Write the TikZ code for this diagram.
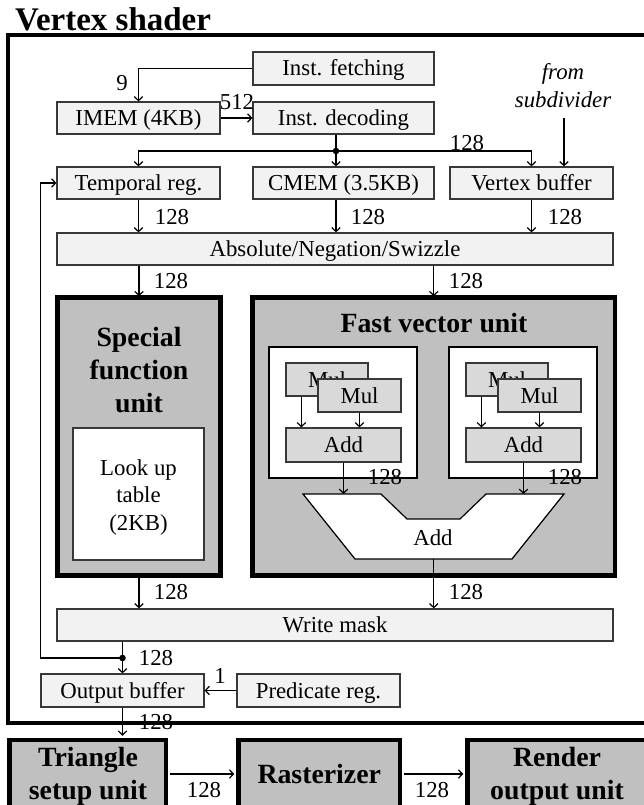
\documentclass[tikz,border=0pt]{standalone}
\usepackage{fontspec}
\setmainfont{Liberation Serif}
\usetikzlibrary{arrows.meta,calc}

\definecolor{boxlight}{HTML}{F2F2F2}
\definecolor{boxmid}{HTML}{D9D9D9}
\definecolor{unitgray}{HTML}{C0C0C0}
\definecolor{edgegray}{HTML}{383838}

\newcommand\dgtext{\fontsize{22.8}{27.5}\selectfont}
\newcommand\dgital{\fontsize{22.8}{28}\selectfont\itshape}
\newcommand\dgbold{\fontsize{27.8}{33}\selectfont\bfseries}
\newcommand\dgtitle{\fontsize{33}{38}\selectfont\bfseries}

\begin{document}
\begin{tikzpicture}[x=1pt,y=-1pt,
  wire/.style={line width=1.2pt},
  conn/.style={line width=1.2pt,-{Straight Barb[length=4pt,width=8.5pt]}},
  lbox/.style={draw=edgegray,line width=1.2pt,fill=boxlight,inner sep=0pt,
               font=\dgtext,text height=15pt,text depth=0pt},
  mbox/.style={lbox,fill=boxmid},
  unitbox/.style={draw=black,line width=4.5pt,fill=unitgray,inner sep=0pt},
  wbox/.style={draw=black,line width=1.2pt,fill=white,inner sep=0pt},
  lbl/.style={font=\dgtext,inner sep=0pt},
  heading/.style={font=\dgbold,align=center,inner sep=0pt},
]
\useasboundingbox (0,0) rectangle (643,805);
\fill[white] (0,0) rectangle (643,805);

% title and enclosing frame of the vertex shader
\node[anchor=base west,font=\dgtitle,inner sep=0pt] (title) at (15,31) {Vertex shader};
\draw[line width=4.5pt] (8,35) rectangle (662,723);

% instruction path
\node[lbox,minimum width=181pt,minimum height=33pt] (fetch) at (343.5,68.5) {Inst. fetching};
\node[lbox,minimum width=163pt,minimum height=32pt] (imem) at (138.5,118) {IMEM (4KB)};
\node[lbox,minimum width=181pt,minimum height=32pt] (dec) at (343.5,118) {Inst. decoding};
\node[font=\dgital,align=center,inner sep=0pt] (subd) at (563,86) {from\\subdivider};

% operand sources
\node[lbox,minimum width=163pt,minimum height=32pt] (treg) at (138.5,183) {Temporal reg.};
\node[lbox,minimum width=181pt,minimum height=32pt] (cmem) at (343.5,183) {CMEM (3.5KB)};
\node[lbox,minimum width=163pt,minimum height=32pt] (vbuf) at (531.5,183) {Vertex buffer};
\node[lbox,minimum width=556pt,minimum height=32pt] (abs) at (335,249) {Absolute/Negation/Swizzle};

% special function unit
\node[unitbox,minimum width=163pt,minimum height=278pt] (sfu) at (139,436.5) {};
\node[heading] (sfutxt) at (139,370) {Special\\function\\unit};
\node[wbox,draw=edgegray,minimum width=131pt,minimum height=132pt] (lut) at (138.5,494) {};
\node[font=\dgtext,align=center,inner sep=0pt] (luttxt) at (138.5,497.5) {Look up\\table\\(2KB)};

% fast vector unit
\node[unitbox,minimum width=362.5pt,minimum height=278pt] (fvu) at (433.75,436.5) {};
\node[heading,anchor=base] (fvutxt) at (434,332.5) {Fast vector unit};
\node[wbox,minimum width=148pt,minimum height=131pt] (grpL) at (343,412.5) {};
\node[wbox,minimum width=148pt,minimum height=131pt] (grpR) at (523,412.5) {};

\node[mbox,minimum width=82pt,minimum height=33pt] (mulbL) at (327,379.5) {Mul};
\node[mbox,minimum width=83pt,minimum height=33pt] (mulfL) at (359.5,395.5) {Mul};
\node[mbox,minimum width=115pt,minimum height=34pt] (addL) at (343.5,445) {Add};
\node[mbox,minimum width=82pt,minimum height=33pt] (mulbR) at (507,379.5) {Mul};
\node[mbox,minimum width=83pt,minimum height=33pt] (mulfR) at (539.5,395.5) {Mul};
\node[mbox,minimum width=115pt,minimum height=34pt] (addR) at (523.5,445) {Add};

% final adder of the vector unit
\draw[line width=1.2pt,fill=white] (303,494) -- (381,494) -- (407,519) -- (460,519)
  -- (486,494) -- (564,494) -- (512,559) -- (355,559) -- cycle;
\node[lbl] (addF) at (433,538) {Add};
\coordinate (inL) at (343.5,494);
\coordinate (inR) at (523.5,494);
\coordinate (outF) at (433.75,559);

% write back and output
\node[lbox,minimum width=556pt,minimum height=32pt] (wmask) at (335,625) {Write mask};
\node[lbox,minimum width=163pt,minimum height=33pt] (obuf) at (122.5,690.5) {Output buffer};
\node[lbox,minimum width=163pt,minimum height=33pt] (pred) at (318.5,690.5) {Predicate reg.};

% downstream pipeline stages
\node[unitbox,minimum width=156.5pt,minimum height=68pt] (tri) at (87.75,774) {};
\node[heading] (tritxt) at (88,776) {Triangle\\setup unit};
\node[unitbox,minimum width=161.5pt,minimum height=68pt,font=\dgbold] (rast) at (319.25,774) {Rasterizer};
\node[unitbox,minimum width=179pt,minimum height=68pt] (rop) at (557,774) {};
\node[heading] (roptxt) at (557,776) {Render\\output unit};

% ---- connectors ----
\draw[conn] (fetch.west) -| (imem.north);
\draw[conn] (imem.east) -- (dec.west);

\coordinate (bus) at (336,151);
\draw[wire] (dec.south -| bus) -- (bus);
\draw[conn] (bus) -- (bus |- cmem.north);
\draw[conn] (bus) -| (treg.north);
\draw[conn] (bus) -| (vbuf.north);
\fill (bus) circle (3.3pt);

\coordinate (subsrc) at (564,118);
\draw[conn] (subsrc) -- (subsrc |- vbuf.north);

\draw[conn] (treg.south) -- (treg.south |- abs.north);
\draw[conn] (bus |- cmem.south) -- (bus |- abs.north);
\draw[conn] (vbuf.south) -- (vbuf.south |- abs.north);

\draw[conn] (sfu.north |- abs.south) -- ([yshift=-1pt]sfu.north);
\draw[conn] (fvu.north |- abs.south) -- ([yshift=-1pt]fvu.north);

\draw[conn] ([xshift=16pt]mulbL.south west) -- ([xshift=16pt]mulbL.south west |- addL.north);
\draw[conn] (mulfL.south) -- (mulfL.south |- addL.north);
\draw[conn] ([xshift=16pt]mulbR.south west) -- ([xshift=16pt]mulbR.south west |- addR.north);
\draw[conn] (mulfR.south) -- (mulfR.south |- addR.north);
\draw[conn] (addL.south) -- (inL);
\draw[conn] (addR.south) -- (inR);

\draw[conn] ([yshift=2pt]sfu.south) -- (sfu.south |- wmask.north);
\draw[conn] (outF) -- (outF |- wmask.north);

\coordinate (tap) at (122.5,658);
\draw[wire] (obuf.north |- wmask.south) -- (tap);
\draw[conn] (tap) -- (obuf.north);
\draw[conn] (tap) -- (obuf.west |- tap) |- (treg.west);
\fill (tap) circle (3.3pt);

\draw[conn] (pred.west) -- (obuf.east);
\draw[conn,shorten >=2pt] (obuf.south) -- (obuf.south |- tri.north);
\draw[conn,shorten >=2pt] ([xshift=2pt]tri.east) -- (rast.west);
\draw[conn,shorten >=2pt] ([xshift=2pt]rast.east) -- (rop.west);

% ---- bus widths ----
\node[lbl] at (122,83) {9};
\node[lbl] at (237,102) {512};
\node[lbl] at (467,143) {128};
\node[lbl] at (172,217) {128};
\node[lbl] at (368,217) {128};
\node[lbl] at (565,217) {128};
\node[lbl] at (171,281) {128};
\node[lbl] at (466,281) {128};
\node[lbl] at (385,477) {128};
\node[lbl] at (565,477) {128};
\node[lbl] at (171,592) {128};
\node[lbl] at (466,592) {128};
\node[lbl] at (156,658) {128};
\node[lbl] at (220,676) {1};
\node[lbl] at (156,722) {128};
\node[lbl] at (204,790) {128};
\node[lbl] at (432,790) {128};
\end{tikzpicture}
\end{document}
